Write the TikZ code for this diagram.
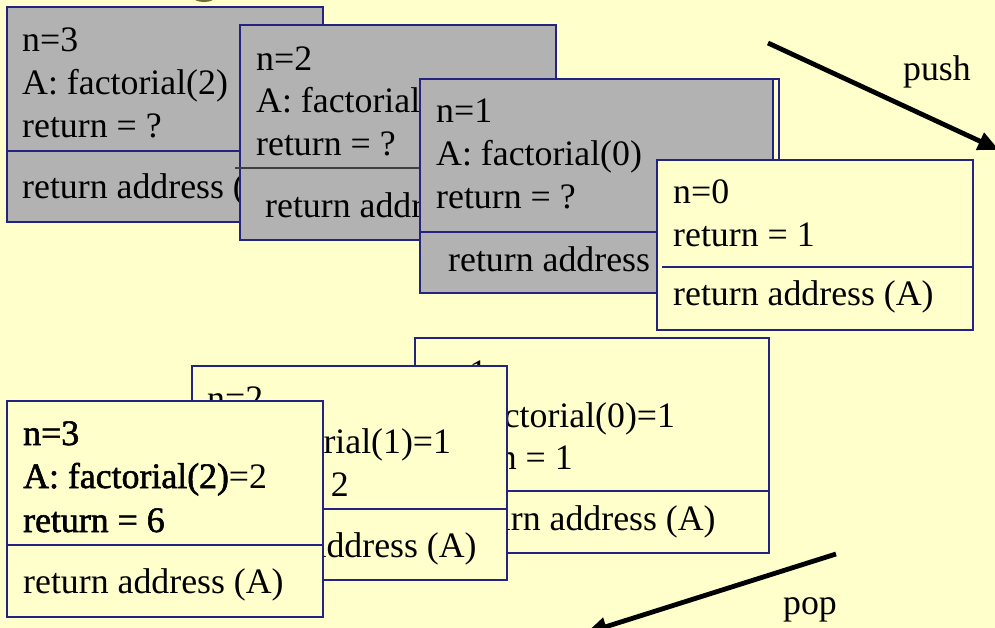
\documentclass[tikz,border=0pt]{standalone}
\usepackage{fontspec}
\setmainfont{Liberation Serif}
\newfontfamily\heavyserif[FakeBold=1.6]{Liberation Serif}
\usetikzlibrary{arrows.meta}
\definecolor{bgyellow}{RGB}{255,255,204}
\definecolor{framegray}{RGB}{178,178,178}
\definecolor{framenavy}{RGB}{36,36,128}
\definecolor{titleolive}{RGB}{110,110,50}
\tikzset{
  frameline/.style={draw=framenavy, line width=1.4pt},
  waiting/.style={frameline, fill=framegray},
  done/.style={frameline, fill=bgyellow},
  divider/.style={draw=framenavy, line width=1.2pt},
  slot/.style={anchor=base west, inner sep=0pt, font=\fontsize{35.8}{42}\selectfont},
  flow/.style={line width=4.8pt, -{Triangle[length=21pt,width=18pt]}},
  flowlabel/.style={inner sep=0pt, font=\fontsize{35.8}{42}\selectfont}
}
\begin{document}
\begin{tikzpicture}[x=1pt,y=-1pt]
\fill[bgyellow] (0,0) rectangle (995,628);
\useasboundingbox (0,0) rectangle (995,628);
\clip (0,0) rectangle (995,628);

% descender of the heading above the picture
\fill[titleolive] (204,-3) ellipse [x radius=11, y radius=5];

% ---------- calls being pushed ----------
% frame n=3
\draw[waiting] (7,7) rectangle (323,222);
\draw[divider] (7,151) -- (323,151);
\node[slot] (a1) at (22,52) {n=3};
\node[slot] (a2) at (22,95) {A: factorial(2)};
\node[slot] (a3) at (22,138) {return = ?};
\node[slot] (a4) at (22,199) {return address (A)};

% frame n=2
\draw[waiting] (240,25) rectangle (556,240);
\draw[line width=1.2pt, draw=black!75] (235,168) -- (556,168);
\node[slot] (b1) at (256,71) {n=2};
\node[slot] (b2) at (256,113) {A: factorial(1)};
\node[slot] (b3) at (256,156) {return = ?};
\node[slot] (b4) at (265,218) {return address (A)};

% frame n=1 (drawn with a double right edge)
\draw[done] (420,79) rectangle (779,293);
\draw[waiting] (420,79) rectangle (773,293);
\draw[divider] (420,232) -- (773,232);
\node[slot] (c1) at (436,123) {n=1};
\node[slot] (c2) at (436,166) {A: factorial(0)};
\node[slot] (c3) at (436,209) {return = ?};
\node[slot] (c4) at (448,271) {return address (A)};

% frame n=0
\draw[done] (657,160) rectangle (973,330);
\draw[divider] (662,267) -- (973,267);
\node[slot] (d1) at (673,204) {n=0};
\node[slot] (d2) at (673,247) {return = 1};
\node[slot] (d3) at (673,305) {return address (A)};

% push arrow
\coordinate (pushfrom) at (768,43);
\coordinate (pushto) at (999,150);
\draw[flow] (pushfrom) -- (pushto);
\node[flowlabel] (pushlbl) at (937,72) {push};

% ---------- calls being popped ----------
% frame n=1
\draw[done] (415,338) rectangle (769,553);
\draw[divider] (415,491) -- (769,491);
\node[slot] (e1) at (431,384) {n=1};
\node[slot] (e2) at (431,427) {A: factorial(0)=1};
\node[slot] (e3) at (431,469) {return = 1};
\node[slot] (e4) at (455,530) {return address (A)};

% frame n=2
\draw[done] (192,366) rectangle (507,580);
\draw[divider] (192,509) -- (507,509);
\node[slot] (f1) at (207,410) {n=2};
\node[slot] (f2) at (207,453) {A: factorial(1)=1};
\node[slot] (f3) at (207,496) {return = 2};
\node[slot] (f4) at (216,557) {return address (A)};

% frame n=3
\draw[done] (7,401) rectangle (323,617);
\draw[divider] (7,545) -- (323,545);
\node[slot] (g1) at (23,445) {\heavyserif n=3};
\node[slot] (g2) at (23,488) {{\heavyserif A: factorial(2)}=2};
\node[slot] (g3) at (23,532) {\heavyserif return = 6};
\node[slot] (g4) at (23,593) {return address (A)};

% pop arrow
\coordinate (popfrom) at (836,554);
\coordinate (popto) at (586,633);
\draw[flow] (popfrom) -- (popto);
\node[flowlabel] (poplbl) at (810,610) {pop};
\end{tikzpicture}
\end{document}
